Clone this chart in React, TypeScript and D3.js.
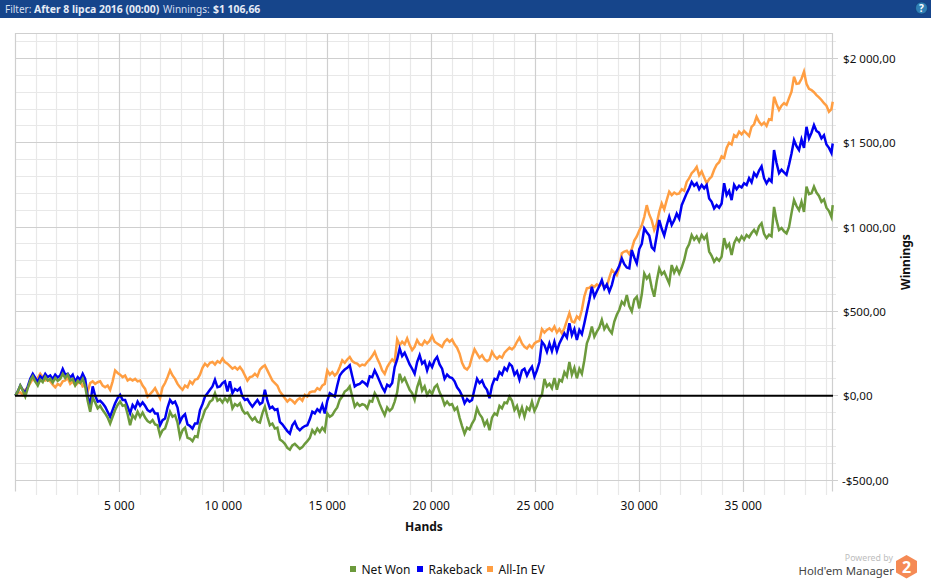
import React from "react";
import * as d3 from "d3";

const hands: number[] = [...d3.range(0, 39241, 120), 39300];

const netWon: number[] = [
  0,25,60,30,-5,45,90,115,85,60,
  95,80,112,90,100,78,105,88,100,130,
  105,125,90,100,62,88,75,100,55,-30,
  -95,-10,-40,-75,-60,-85,-105,-130,-165,-125,
  -85,-55,-35,-60,-55,-110,-175,-115,-135,-95,
  -125,-100,-130,-150,-160,-145,-170,-175,-235,-205,
  -195,-150,-95,-125,-115,-160,-245,-205,-190,-250,
  -255,-270,-240,-245,-165,-130,-85,-65,-35,-25,
  15,-30,-20,-40,-15,-35,-5,-75,-50,-60,
  -45,-85,-105,-100,-125,-145,-130,-155,-160,-105,
  -65,-125,-175,-165,-195,-190,-260,-270,-285,-310,
  -320,-295,-285,-300,-315,-305,-285,-270,-250,-205,
  -225,-195,-215,-190,-210,-105,-125,-115,-90,-70,
  -25,-5,25,35,55,-5,-65,-45,-60,-50,
  -55,-75,-30,-35,15,-10,-50,-85,-115,-70,
  -90,-75,-35,20,130,85,105,70,35,15,
  -25,50,95,30,55,5,30,10,50,65,
  20,-10,-55,-35,-55,-50,-85,-70,-130,-180,
  -225,-190,-200,-165,-140,-75,-110,-130,-175,-150,
  -205,-130,-105,-115,-60,-75,-40,-45,-5,-30,
  -85,-60,-115,-70,-125,-70,-85,-35,-90,-60,
  -15,5,100,55,70,45,105,35,95,85,
  140,115,200,125,165,103,160,130,210,310,
  350,410,350,380,405,450,395,420,390,370,
  440,480,510,557,540,597,530,500,570,587,
  518,600,725,695,715,640,587,680,755,720,
  735,700,666,775,730,760,725,760,805,870,
  900,953,925,945,915,953,930,953,855,830,
  795,815,800,825,935,880,900,835,905,935,
  915,945,925,953,940,965,983,960,1005,1023,
  960,935,955,945,1120,1040,983,995,975,963,
  1000,1083,1160,1125,1100,1150,1090,1240,1195,1200,
  1240,1205,1185,1150,1165,1115,1095,1060,1130,
];

const rakeback: number[] = [
  0,25,60,35,15,55,100,130,105,80,
  115,100,130,110,120,98,125,108,120,158,
  125,130,108,125,82,110,95,130,100,-5,
  -55,55,0,-35,-30,-45,-65,-95,-125,-85,
  -45,-15,5,-25,-25,-65,-105,-55,-75,-35,
  -60,-40,-60,-85,-95,-80,-105,-105,-175,-145,
  -135,-70,-25,-45,-35,-70,-155,-125,-110,-170,
  -180,-195,-165,-165,-85,-50,-5,15,35,55,
  95,50,55,75,85,25,85,15,40,30,
  45,-5,-25,-20,-45,-65,-45,-25,-50,-40,
  35,-30,-75,-65,-85,-80,-155,-170,-190,-210,
  -225,-175,-155,-190,-205,-190,-180,-175,-140,-95,
  -105,-80,-95,-55,-105,-30,15,5,-5,60,
  120,140,155,165,180,115,55,65,70,85,
  75,60,115,110,150,120,85,50,25,65,
  55,75,170,215,280,235,255,220,185,160,
  130,200,240,190,205,150,195,170,210,230,
  185,160,100,125,110,105,85,50,30,0,
  -45,-20,-35,-25,40,100,75,90,55,35,
  -15,60,100,95,140,125,165,150,190,175,
  125,145,95,150,160,120,150,172,113,150,
  200,320,300,260,310,265,320,265,310,340,
  370,345,430,360,395,330,390,365,430,500,
  567,646,587,620,650,686,635,660,617,656,
  715,740,770,814,780,760,755,864,820,785,
  870,900,992,970,950,880,864,950,1042,990,
  950,1010,1062,1012,1040,1080,1050,1130,1165,1200,
  1230,1268,1245,1260,1225,1250,1230,1250,1170,1150,
  1111,1130,1115,1140,1260,1190,1215,1160,1250,1225,
  1245,1235,1260,1250,1290,1265,1320,1300,1335,1360,
  1290,1260,1285,1270,1457,1380,1320,1340,1325,1310,
  1370,1437,1516,1480,1457,1520,1470,1595,1526,1560,
  1605,1570,1560,1526,1545,1490,1470,1440,1496,
];

const allInEv: number[] = [
  0,15,20,5,35,50,75,100,85,105,
  130,110,90,95,85,65,50,70,60,85,
  90,105,70,85,60,75,90,55,60,25,
  75,85,70,80,85,60,50,60,35,85,
  150,135,125,110,120,90,100,90,100,85,
  90,60,40,-5,10,25,45,15,-15,50,
  75,110,150,120,100,70,50,35,60,50,
  85,70,95,100,125,165,190,175,195,200,
  185,205,195,220,200,190,175,160,170,155,
  170,150,120,90,110,115,130,115,155,170,
  180,150,120,90,75,60,25,5,-15,-35,
  -20,-30,-45,-25,-15,-30,5,-5,20,25,
  25,45,35,60,70,150,125,140,120,135,
  170,210,195,215,230,205,195,190,175,185,
  180,200,215,235,260,220,190,150,130,170,
  195,215,200,333,300,320,305,340,300,270,
  290,330,305,300,325,310,325,354,320,310,
  300,290,320,335,320,333,305,285,250,195,
  165,155,175,230,275,250,225,240,215,205,
  215,260,235,220,235,225,255,270,285,275,
  290,320,344,310,290,280,300,285,310,320,
  325,395,375,390,400,385,410,375,395,370,
  400,445,490,440,435,470,455,510,590,637,
  640,655,645,660,650,666,645,650,700,745,
  730,715,760,845,855,860,840,870,920,945,
  980,1010,1060,1130,1075,1040,983,1020,1090,1140,
  1105,1160,1210,1190,1205,1195,1200,1225,1215,1268,
  1290,1320,1335,1357,1307,1330,1295,1260,1285,1300,
  1340,1370,1385,1420,1410,1470,1500,1490,1546,1535,
  1566,1550,1570,1556,1540,1595,1610,1654,1625,1606,
  1620,1600,1640,1636,1773,1730,1695,1720,1735,1725,
  1765,1803,1892,1850,1852,1880,1922,1850,1820,1813,
  1800,1783,1770,1754,1735,1720,1684,1700,1743,
];

const xTicks = [5000, 10000, 15000, 20000, 25000, 30000, 35000];
const yTicks = [-500, 0, 500, 1000, 1500, 2000];
const xMinor = d3.range(1000, 39001, 1000);
const yMinor = d3.range(-500, 2101, 100);
const legendItems = ["Net Won", "Rakeback", "All-In EV"];

const COLORS = { net: "#6c9a3c", rake: "#0000f2", ev: "#ff9e42" };
const FONT = "'Noto Sans', 'Open Sans', sans-serif";

const fmtNum = (v: number) => {
  const a = Math.abs(v);
  return a >= 1000 ? `${Math.floor(a / 1000)} ${String(a % 1000).padStart(3, "0")}` : `${a}`;
};
const fmtMoney = (v: number) => `${v < 0 ? "-" : ""}$${fmtNum(v)},00`;

export default function App() {
  const x = d3.scaleLinear().domain([0, 39300]).range([15.3, 832.7]);
  const y = d3.scaleLinear().domain([-500, 2000]).range([480, 58.5]);
  const line = d3.line<number>().x((_, i) => x(hands[i])).y((d) => y(d));
  const snap = (v: number) => Math.round(v - 0.5) + 0.5;

  return (
    <svg width={931} height={583} style={{ position: "absolute", left: 0, top: 0, background: "#fff" }}>
      <rect x={0} y={0} width={931} height={18} fill="#16458b" />
      <text x={5} y={13} fontFamily={FONT} fontSize={10} fill="#d5dff0">Filter:</text>
      <text x={34} y={13} fontFamily={FONT} fontSize={10.4} fontWeight={700} fill="#e6ecf6">After 8 lipca 2016 (00:00)</text>
      <text x={163} y={13} fontFamily={FONT} fontSize={10} fill="#d5dff0">Winnings:</text>
      <text x={213} y={13} fontFamily={FONT} fontSize={10.4} fontWeight={700} fill="#e6ecf6">$1 106,66</text>
      <circle cx={921.5} cy={8} r={6} fill="#2f7fb5" stroke="#0f3a70" strokeWidth={0.6} />
      <text x={921.5} y={12} textAnchor="middle" fontFamily={FONT} fontSize={10} fontWeight={700} fill="#fff">?</text>

      {yMinor.filter((v) => v % 500 !== 0).map((v) => (
        <line key={v} x1={15} x2={836} y1={snap(y(v))} y2={snap(y(v))} stroke="#e8e8e8" strokeWidth={1.2} />
      ))}
      {xMinor.filter((v) => v % 5000 !== 0).map((v) => (
        <line key={v} x1={snap(x(v))} x2={snap(x(v))} y1={33} y2={495} stroke="#e8e8e8" strokeWidth={1.2} />
      ))}
      {yTicks.map((v) => (
        <line key={v} x1={15} x2={838} y1={snap(y(v))} y2={snap(y(v))} stroke="#cfcfcf" strokeWidth={1.2} />
      ))}
      {xTicks.map((v) => (
        <line key={v} x1={snap(x(v))} x2={snap(x(v))} y1={33} y2={492} stroke="#cfcfcf" strokeWidth={1.2} />
      ))}
      <path d="M15.5 491.5V33.5H832.5V491.5" fill="none" stroke="#cfcfcf" strokeWidth={1.2} />

      <path d={line(allInEv) ?? ""} fill="none" stroke={COLORS.ev} strokeWidth={2.5} />
      <path d={line(rakeback) ?? ""} fill="none" stroke={COLORS.rake} strokeWidth={2.5} />
      <path d={line(netWon) ?? ""} fill="none" stroke={COLORS.net} strokeWidth={2.5} />
      <line x1={15} x2={833} y1={y(0)} y2={y(0)} stroke="#000" strokeWidth={2} />

      {xTicks.map((v) => (
        <text key={v} x={x(v)} y={510} textAnchor="middle" fontFamily={FONT} fontSize={12} fill="#111">{fmtNum(v)}</text>
      ))}
      {yTicks.map((v) => (
        <text key={v} x={v < 0 ? 842 : 843} y={y(v) + 4.5} fontFamily={FONT} fontSize={11.6} fill="#111">{fmtMoney(v)}</text>
      ))}
      <text x={424} y={531} textAnchor="middle" fontFamily={FONT} fontSize={12} fontWeight={700} fill="#111">Hands</text>
      <text transform="translate(910,262) rotate(-90)" textAnchor="middle" fontFamily={FONT} fontSize={12} fontWeight={700} fill="#111">Winnings</text>

      {legendItems.map((name, i) => {
        const sx = [350, 417, 487][i];
        const c = [COLORS.net, COLORS.rake, COLORS.ev][i];
        return (
          <g key={name}>
            <rect x={sx} y={566} width={6} height={6} fill={c} />
            <text x={sx + 11.5} y={574} fontFamily={FONT} fontSize={12} fill="#111">{name}</text>
          </g>
        );
      })}

      <text x={893} y={560.5} textAnchor="end" fontFamily={FONT} fontSize={8.8} fill="#bdbdbd">Powered by</text>
      <text x={894} y={574.5} textAnchor="end" fontFamily={FONT} fontSize={11.4} fill="#444">Hold'em Manager</text>
      <polygon points="906.5,555 917,561 917,572.5 906.5,578.5 896,572.5 896,561" fill="#f58a55" />
      <text x={906.5} y={572.5} textAnchor="middle" fontFamily={FONT} fontSize={16} fontWeight={700} fill="#fff">2</text>
    </svg>
  );
}
